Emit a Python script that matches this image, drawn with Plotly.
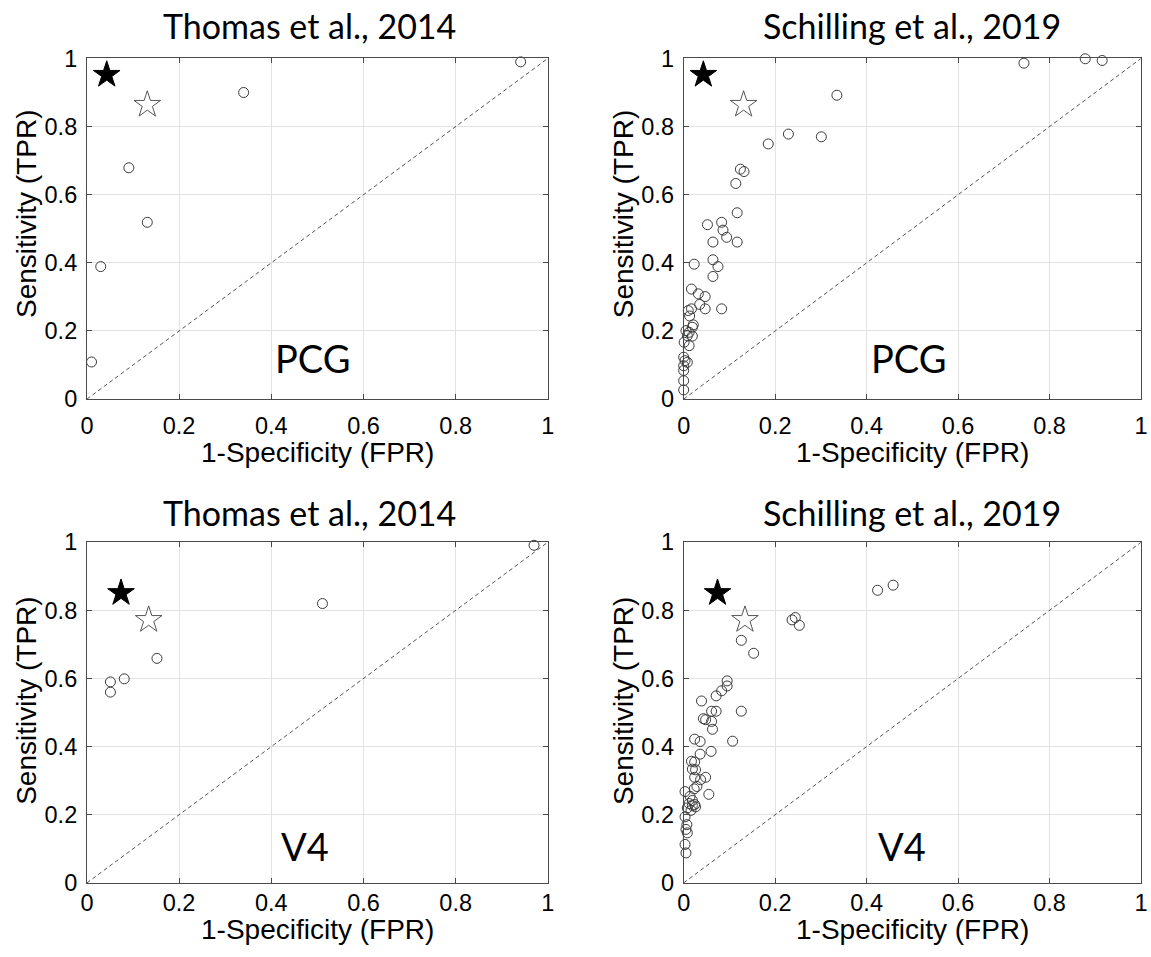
import plotly.graph_objects as go

# ---------------- data ----------------
tick_vals = [0, 0.2, 0.4, 0.6, 0.8, 1]
tick_text = ["0", "0.2", "0.4", "0.6", "0.8", "1"]
diag = [0, 1]

titles = ["Thomas et al., 2014", "Schilling et al., 2019",
          "Thomas et al., 2014", "Schilling et al., 2019"]
modality = ["PCG", "PCG", "V4", "V4"]

# proposed method operating points (filled star / open star)
pcg_star_solid_fpr = [0.043]
pcg_star_solid_tpr = [0.952]
pcg_star_open_fpr = [0.131]
pcg_star_open_tpr = [0.864]
v4_star_solid_fpr = [0.074]
v4_star_solid_tpr = [0.851]
v4_star_open_fpr = [0.134]
v4_star_open_tpr = [0.772]

# Thomas et al., 2014 - PCG
thomas_pcg_fpr = [0.941, 0.340, 0.091, 0.131, 0.030, 0.010]
thomas_pcg_tpr = [0.990, 0.900, 0.679, 0.519, 0.389, 0.109]

# Thomas et al., 2014 - V4
thomas_v4_fpr = [0.970, 0.511, 0.152, 0.081, 0.051, 0.051]
thomas_v4_tpr = [0.991, 0.820, 0.659, 0.599, 0.590, 0.560]

# Schilling et al., 2019 - PCG
schilling_pcg_fpr = [0.915, 0.878, 0.744, 0.335, 0.301, 0.229, 0.185,
                     0.124, 0.132, 0.114, 0.117, 0.052, 0.083, 0.086, 0.094,
                     0.064, 0.117, 0.023, 0.064, 0.075, 0.064, 0.017, 0.032,
                     0.047, 0.035, 0.047, 0.083, 0.017, 0.010, 0.013, 0.021,
                     0.019, 0.005, 0.012, 0.008, 0.019, 0.001, 0.012, 0.000,
                     0.003, 0.008, 0.000, 0.000, 0.000, 0.000]
schilling_pcg_tpr = [0.994, 0.999, 0.986, 0.892, 0.770, 0.778, 0.749,
                     0.675, 0.668, 0.633, 0.547, 0.512, 0.519, 0.496, 0.475,
                     0.461, 0.461, 0.396, 0.409, 0.389, 0.360, 0.323, 0.309,
                     0.301, 0.278, 0.265, 0.265, 0.265, 0.260, 0.244, 0.218,
                     0.211, 0.201, 0.196, 0.186, 0.185, 0.167, 0.157, 0.123,
                     0.113, 0.108, 0.098, 0.084, 0.054, 0.027]

# Schilling et al., 2019 - V4
schilling_v4_fpr = [0.458, 0.424, 0.244, 0.237, 0.253, 0.126, 0.153,
                    0.095, 0.095, 0.083, 0.071, 0.039, 0.061, 0.071, 0.126,
                    0.043, 0.048, 0.061, 0.063, 0.024, 0.036, 0.107, 0.036,
                    0.060, 0.017, 0.024, 0.019, 0.026, 0.024, 0.037, 0.048,
                    0.029, 0.023, 0.055, 0.003, 0.014, 0.019, 0.012, 0.019,
                    0.026, 0.008, 0.016, 0.024, 0.003, 0.007, 0.005, 0.008,
                    0.003, 0.005]
schilling_v4_tpr = [0.874, 0.859, 0.779, 0.772, 0.756, 0.712, 0.674,
                    0.593, 0.578, 0.564, 0.549, 0.534, 0.504, 0.504, 0.504,
                    0.482, 0.479, 0.474, 0.451, 0.422, 0.415, 0.416, 0.378,
                    0.386, 0.357, 0.355, 0.334, 0.332, 0.310, 0.303, 0.310,
                    0.283, 0.276, 0.260, 0.268, 0.254, 0.242, 0.233, 0.227,
                    0.223, 0.220, 0.213, 0.230, 0.194, 0.171, 0.157, 0.147,
                    0.113, 0.088]

panel_fpr = [thomas_pcg_fpr, schilling_pcg_fpr, thomas_v4_fpr, schilling_v4_fpr]
panel_tpr = [thomas_pcg_tpr, schilling_pcg_tpr, thomas_v4_tpr, schilling_v4_tpr]
star_solid = [(pcg_star_solid_fpr, pcg_star_solid_tpr), (pcg_star_solid_fpr, pcg_star_solid_tpr),
              (v4_star_solid_fpr, v4_star_solid_tpr), (v4_star_solid_fpr, v4_star_solid_tpr)]
star_open = [(pcg_star_open_fpr, pcg_star_open_tpr), (pcg_star_open_fpr, pcg_star_open_tpr),
             (v4_star_open_fpr, v4_star_open_tpr), (v4_star_open_fpr, v4_star_open_tpr)]

# ---------------- layout geometry (pixels) ----------------
W, H = 1151, 957
x_px = [(80.9, 547.5), (685.0, 1148.0), (80.9, 547.5), (685.0, 1148.0)]
y_px = [(46.7, 396.9), (46.7, 396.9), (544.0, 894.2), (544.0, 894.2)]

title_x = [0.482, 0.4985, 0.482, 0.4985]
title_y = [1.097, 1.097, 1.0886, 1.0886]
label_x = [0.489, 0.4925, 0.474, 0.477]
label_y = [0.12, 0.12, 0.109, 0.109]
xtitle_y = [-0.158, -0.158, -0.138, -0.138]
ytitle_y = [0.542, 0.542, 0.533, 0.533]
xtick_standoff = [6, 6, -1, -1]

SANS = "Arial, 'Liberation Sans', Helvetica, sans-serif"
TICK_FONT = dict(family=SANS, size=23.5, color="black")
AX_FONT = dict(family=SANS, size=28, color="black")
CAL_FONT = "Lato, Carlito, Calibri, sans-serif"

fig = go.Figure()
annotations = []
for i in range(4):
    xa = "x" if i == 0 else f"x{i+1}"
    ya = "y" if i == 0 else f"y{i+1}"
    fig.add_trace(go.Scatter(x=diag, y=diag, mode="lines", xaxis=xa, yaxis=ya,
                             line=dict(color="#555555", width=1, dash="4px,3px"),
                             hoverinfo="skip", showlegend=False))
    fig.add_trace(go.Scatter(x=panel_fpr[i], y=panel_tpr[i], mode="markers",
                             xaxis=xa, yaxis=ya, cliponaxis=False,
                             marker=dict(symbol="circle-open", size=10,
                                         color="#3a3a3a", line=dict(width=1)),
                             showlegend=False))
    fig.add_trace(go.Scatter(x=star_open[i][0], y=star_open[i][1], mode="markers",
                             xaxis=xa, yaxis=ya, cliponaxis=False,
                             marker=dict(symbol="star", size=20, color="white",
                                         line=dict(color="#555555", width=1)),
                             showlegend=False))
    fig.add_trace(go.Scatter(x=star_solid[i][0], y=star_solid[i][1], mode="markers",
                             xaxis=xa, yaxis=ya, cliponaxis=False,
                             marker=dict(symbol="star", size=20, color="black",
                                         line=dict(color="black", width=1)),
                             showlegend=False))

    x0, x1 = x_px[i]
    y0, y1 = y_px[i]
    axis_common = dict(range=[0, 1], tickvals=tick_vals, ticktext=tick_text,
                       showgrid=True, gridcolor="#e2e2e2", gridwidth=1,
                       zeroline=False, showline=True, linecolor="#4a4a4a",
                       linewidth=1, mirror="ticks", ticks="inside", ticklen=5,
                       tickcolor="#4a4a4a", tickfont=TICK_FONT, fixedrange=True)
    fig.update_layout(**{
        ("xaxis" if i == 0 else f"xaxis{i+1}"): dict(
            domain=[x0 / W, min(x1 / W, 1.0)], anchor=ya,
            ticklabelstandoff=xtick_standoff[i], **axis_common),
        ("yaxis" if i == 0 else f"yaxis{i+1}"): dict(
            domain=[1 - y1 / H, 1 - y0 / H], anchor=xa, ticklabelstandoff=4, **axis_common),
    })

    annotations.append(dict(text=titles[i], xref=f"{xa} domain", yref=f"{ya} domain",
                            x=title_x[i], y=title_y[i], xanchor="center", yanchor="middle",
                            showarrow=False, font=dict(family=CAL_FONT, size=34, color="black")))
    annotations.append(dict(text=modality[i], xref=f"{xa} domain", yref=f"{ya} domain",
                            x=label_x[i], y=label_y[i], xanchor="center", yanchor="middle",
                            showarrow=False, font=dict(family=CAL_FONT, size=38, color="black")))
    annotations.append(dict(text="1-Specificity (FPR)", xref=f"{xa} domain", yref=f"{ya} domain",
                            x=0.5, y=xtitle_y[i], xanchor="center", yanchor="middle",
                            showarrow=False, font=AX_FONT))
    annotations.append(dict(text="Sensitivity (TPR)", xref=f"{xa} domain", yref=f"{ya} domain",
                            x=-0.131, y=ytitle_y[i], xanchor="center", yanchor="middle", textangle=-90,
                            showarrow=False, font=AX_FONT))

fig.update_layout(width=W, height=H, margin=dict(l=0, r=0, t=0, b=0),
                  paper_bgcolor="white", plot_bgcolor="white",
                  annotations=annotations, showlegend=False)

fig.write_html("out.html", config={"displayModeBar": False},
               post_script="document.body.style.margin='0';document.body.style.overflow='hidden';")
